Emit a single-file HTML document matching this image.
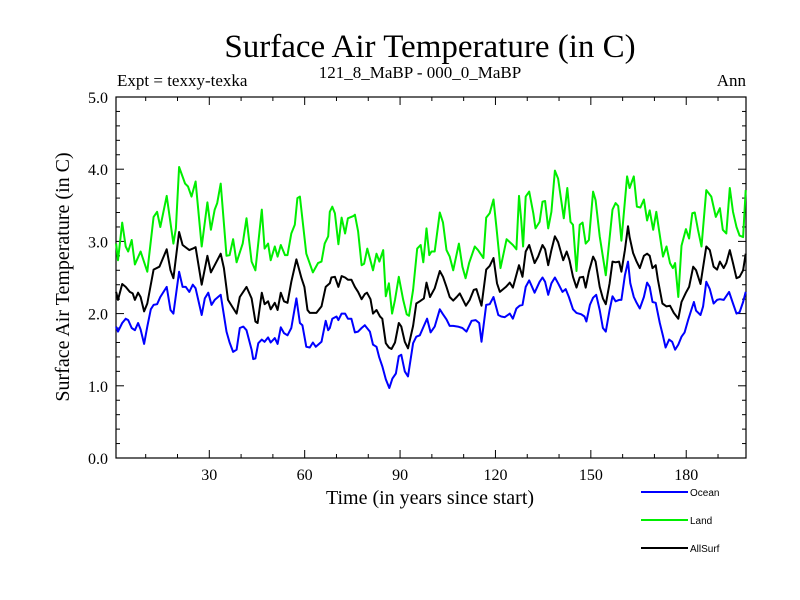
<!DOCTYPE html>
<html><head><meta charset="utf-8"><style>
body{margin:0;background:#fff;}
svg{display:block;font-family:"Liberation Serif",serif;}
</style></head><body>
<svg id="chart" width="800" height="600" viewBox="0 0 800 600">
<rect width="800" height="600" fill="#fff"/>
<text x="430" y="57" font-size="33" text-anchor="middle">Surface Air Temperature (in C)</text>
<text x="117" y="86" font-size="17">Expt = texxy-texka</text>
<text x="420" y="78" font-size="17" text-anchor="middle">121_8_MaBP - 000_0_MaBP</text>
<text x="746" y="86" font-size="17" text-anchor="end">Ann</text>
<text transform="translate(69,277) rotate(-90)" font-size="20" text-anchor="middle">Surface Air Temperature (in C)</text>
<text x="430" y="504" font-size="20" text-anchor="middle">Time (in years since start)</text>
<g id="axes"></g>
<g id="series"></g>
<g id="legend"></g>
</svg>
<script>
const xTicks=[30,60,90,120,150,180];
const xMinorTicks=[10,20,30,40,50,60,70,80,90,100,110,120,130,140,150,160,170,180,190];
const yTicks=[0,1,2,3,4,5];
const yTickLabels=["0.0","1.0","2.0","3.0","4.0","5.0"];
const seriesNames=["Ocean","Land","AllSurf"];

const oceanYears=[0.7,1.3,2.6,3.7,4.5,5.6,6.6,7.6,8.4,9.5,10.5,11.6,12.5,13.6,14.6,16.6,17.8,18.7,20.5,21.6,22.6,23.7,24.8,25.7,27.6,28.6,29.7,30.7,31.7,33.6,35.4,36.4,37.5,38.6,39.6,40.7,41.7,43.3,43.8,44.5,45.4,46.5,47.4,48.5,49.3,50.6,51.5,52.5,53.5,54.6,55.8,57.4,58.5,59.3,60.5,61.6,62.6,63.5,65.3,66.6,67.4,67.9,
68.7,70.0,70.6,71.6,72.7,73.6,74.7,75.8,76.8,77.9,78.9,80.5,81.5,82.6,83.4,84.4,85.5,86.6,87.6,88.7,89.6,90.4,91.5,92.5,94.1,95.1,96.2,97.5,98.5,99.6,100.9,102.5,103.5,104.6,105.6,106.7,108.2,109.6,110.9,112.5,113.8,114.9,115.6,117.1,118.2,119.4,120.9,121.8,122.9,124.5,125.5,126.6,127.6,128.5,129.5,130.6,132.3,133.9,
134.8,135.6,136.6,137.6,138.7,139.7,141.1,142.1,143.1,144.4,145.5,147.0,148.0,148.6,149.7,150.7,151.7,152.8,153.8,154.7,155.9,156.8,157.8,158.9,159.6,160.7,161.7,162.4,163.5,164.4,165.4,166.7,167.7,168.5,169.4,170.4,171.7,172.7,173.5,174.6,175.6,176.5,177.5,178.5,179.5,180.6,181.6,182.4,183.1,184.5,185.3,186.3,187.4,188.6,189.7,190.6,191.8,193.5,194.7,195.8,196.8,197.9,198.7];
const oceanValues=[1.82,1.75,1.87,1.93,1.91,1.80,1.77,1.87,1.78,1.58,1.82,2.06,2.12,2.13,2.23,2.37,2.05,2.00,2.58,2.37,2.37,2.30,2.40,2.35,1.98,2.21,2.29,2.12,2.19,2.26,1.75,1.60,1.47,1.50,1.80,1.82,1.77,1.50,1.37,1.38,1.59,1.64,1.61,1.67,1.60,1.66,1.58,1.81,1.73,1.70,1.80,2.21,1.87,1.84,1.54,1.53,1.60,1.54,1.61,1.90,1.77,1.80,
1.93,1.96,1.91,2.00,2.00,1.93,1.93,1.74,1.75,1.80,1.84,1.75,1.57,1.54,1.40,1.27,1.09,0.97,1.10,1.17,1.41,1.43,1.20,1.13,1.59,1.68,1.70,1.83,1.93,1.74,1.82,2.06,1.99,1.92,1.83,1.83,1.82,1.80,1.75,1.90,1.91,1.87,1.61,2.12,2.13,2.23,1.98,1.96,1.95,2.00,1.93,2.07,2.11,2.12,2.37,2.46,2.29,2.44,
2.50,2.44,2.26,2.42,2.50,2.42,2.30,2.34,2.23,2.06,2.01,1.99,1.96,1.89,2.12,2.22,2.26,2.05,1.80,1.75,2.05,2.24,2.17,2.19,2.19,2.53,2.72,2.42,2.23,2.15,2.07,2.23,2.43,2.37,2.16,2.15,1.87,1.69,1.53,1.64,1.61,1.50,1.57,1.68,1.74,1.91,2.05,2.16,2.04,1.98,2.10,2.44,2.34,2.14,2.19,2.20,2.19,2.30,2.14,2.00,2.02,2.16,2.30];

const landYears=[0.7,1.3,2.6,3.7,4.5,5.6,6.6,8.4,10.5,12.5,13.6,14.6,16.6,18.7,19.5,20.5,22.4,23.3,24.4,25.7,27.6,29.4,30.5,31.7,32.5,33.6,35.4,36.4,37.5,38.6,40.5,41.7,43.3,44.5,46.5,47.4,48.5,49.3,50.6,51.5,52.5,53.8,54.6,55.8,56.9,57.7,58.5,60.5,62.6,64.2,65.3,66.3,67.4,
67.9,68.7,69.5,70.6,71.6,72.7,73.6,75.3,75.8,76.8,77.9,78.7,79.7,81.5,82.6,83.5,84.7,85.5,86.5,87.5,88.4,89.6,91.0,92.1,92.8,94.1,95.4,96.5,97.3,98.3,99.2,99.9,100.9,102.5,103.5,104.6,105.6,106.7,108.5,109.6,110.6,111.7,113.5,114.5,116.2,117.1,118.2,119.4,120.3,121.6,123.5,125.5,126.6,127.4,128.1,128.7,129.5,130.6,131.9,132.6,133.9,
134.8,135.6,136.6,137.6,138.7,139.7,141.5,142.6,143.6,144.4,145.5,146.5,147.4,148.4,149.4,150.7,151.5,152.8,154.7,156.8,157.8,158.6,159.6,161.4,162.2,163.5,164.5,165.6,166.7,167.7,168.5,169.6,170.6,172.7,173.8,174.9,175.8,176.5,177.5,178.5,179.9,180.9,181.9,182.7,183.7,184.8,186.3,187.9,189.3,190.6,191.5,192.6,193.7,194.7,195.8,196.8,197.9,198.7];
const landValues=[2.97,2.74,3.26,2.93,2.86,3.02,2.68,2.86,2.58,3.34,3.41,3.20,3.63,2.97,3.18,4.03,3.80,3.76,3.62,3.83,2.93,3.54,3.16,3.44,3.53,3.80,2.80,2.81,3.03,2.71,2.97,3.32,2.72,2.60,3.44,2.90,2.97,2.74,2.93,2.79,2.95,2.81,2.81,3.11,3.23,3.60,3.62,2.83,2.57,2.70,2.72,2.97,3.07,
3.41,3.48,3.39,2.96,3.33,3.11,3.32,3.35,3.37,3.14,2.67,2.69,2.90,2.60,2.83,2.72,2.88,2.24,2.42,2.00,2.19,2.51,2.19,1.99,1.97,2.33,2.90,2.95,2.71,3.18,2.81,2.86,2.86,3.40,3.26,2.88,2.79,2.60,2.97,2.65,2.49,2.70,2.93,2.88,2.77,3.33,3.39,3.58,3.20,2.63,3.03,2.95,2.89,3.63,3.30,2.93,3.62,3.69,3.39,3.18,3.27,
3.55,3.56,3.18,3.41,3.98,3.87,3.32,3.74,3.27,3.23,2.59,3.23,3.26,2.97,3.02,3.69,3.57,3.07,2.53,3.44,3.53,3.49,3.01,3.90,3.74,3.90,3.48,3.47,3.58,3.29,3.43,3.16,3.41,2.79,2.93,2.70,2.63,2.70,2.23,2.94,3.17,3.04,3.39,3.40,3.16,2.93,3.71,3.62,3.34,3.46,3.16,3.11,3.74,3.41,3.20,3.08,3.06,3.71];

const allYears=[0.7,1.3,2.6,3.7,5.0,5.9,6.6,7.6,8.4,9.5,10.5,12.5,14.3,16.6,17.8,18.7,20.5,21.6,23.7,24.8,25.7,27.6,29.4,30.5,31.7,33.6,34.6,35.9,37.3,38.6,39.6,41.7,43.3,44.5,45.2,46.5,47.4,48.5,49.3,50.6,51.5,52.5,53.5,54.6,55.8,57.4,59.0,59.9,60.9,61.6,63.7,65.3,66.6,67.9,
68.4,69.5,70.6,71.6,72.7,73.6,74.7,75.8,76.8,77.9,78.9,79.6,80.7,81.5,82.6,83.7,84.4,85.5,86.5,87.3,88.4,89.6,90.4,91.5,92.5,94.1,95.1,96.2,97.5,98.3,99.4,100.9,102.5,103.5,104.6,105.6,106.7,107.8,108.8,110.7,111.9,113.2,114.0,115.6,117.1,118.2,119.4,120.5,121.4,123.3,124.5,125.5,127.4,128.5,129.5,130.6,132.3,133.4,
134.8,135.6,136.6,137.6,138.7,139.7,141.3,142.4,143.3,144.4,145.5,146.5,147.6,148.4,149.4,150.7,151.5,152.8,153.8,154.7,155.9,156.8,157.8,158.9,159.6,160.7,161.7,162.2,163.3,164.4,165.4,166.7,167.7,168.5,169.4,170.4,171.1,172.5,173.8,174.9,176.1,177.5,178.5,179.9,180.9,182.2,183.1,184.5,186.3,187.4,188.6,189.7,190.6,191.8,192.6,193.7,194.7,195.8,196.8,197.9,198.7];
const allValues=[2.30,2.19,2.41,2.37,2.30,2.28,2.19,2.29,2.23,2.03,2.14,2.61,2.65,2.89,2.60,2.49,3.13,2.95,2.88,2.90,2.92,2.40,2.80,2.57,2.67,2.83,2.63,2.19,2.09,2.00,2.23,2.37,2.21,1.89,1.87,2.29,2.13,2.17,2.06,2.15,2.05,2.29,2.17,2.15,2.44,2.75,2.49,2.37,2.05,2.01,2.01,2.10,2.37,2.42,
2.50,2.51,2.37,2.52,2.50,2.47,2.47,2.37,2.30,2.20,2.27,2.29,2.20,2.00,2.05,1.96,1.93,1.59,1.53,1.51,1.60,1.87,1.82,1.61,1.52,1.83,2.14,2.17,2.21,2.43,2.23,2.35,2.59,2.51,2.37,2.23,2.18,2.23,2.28,2.11,2.19,2.33,2.34,2.11,2.61,2.66,2.77,2.42,2.30,2.37,2.43,2.36,2.67,2.51,2.86,2.95,2.70,2.79,
2.95,2.89,2.67,2.88,3.07,2.99,2.74,2.86,2.74,2.51,2.36,2.50,2.51,2.36,2.58,2.79,2.72,2.37,2.21,2.13,2.42,2.72,2.71,2.72,2.58,2.88,3.21,3.06,2.84,2.72,2.63,2.80,2.83,2.80,2.63,2.67,2.47,2.14,2.10,2.11,2.01,1.93,2.16,2.29,2.37,2.65,2.60,2.41,2.93,2.88,2.65,2.61,2.72,2.63,2.70,2.88,2.70,2.49,2.51,2.60,2.83];

const PL=116,PR=746,PT=97,PB=458;
const X0=0.66,X1=198.8,Y0=0,Y1=5;
function xs(t){return PL+(t-X0)/(X1-X0)*(PR-PL);}
function ys(v){return PB-(v-Y0)/(Y1-Y0)*(PB-PT);}
const NS="http://www.w3.org/2000/svg";
function mk(tag,attrs,parent){const e=document.createElementNS(NS,tag);for(const k in attrs)e.setAttribute(k,attrs[k]);parent.appendChild(e);return e;}
const axes=document.getElementById('axes');
const frame=mk('rect',{x:PL,y:PT,width:PR-PL,height:PB-PT,fill:'none',stroke:'#000','stroke-width':1.2},axes);


for(let v=0.2;v<5;v+=0.2){
  const y=ys(v);
  const isMajor=Math.abs(v-Math.round(v))<1e-6;
  const L=isMajor?8:4;
  const a=mk('line',{x1:PL,x2:PL+L,y1:y,y2:y,stroke:'#000','stroke-width':1},axes);
  
  
  const b=mk('line',{x1:PR,x2:PR-L,y1:y,y2:y,stroke:'#000','stroke-width':1},axes);
  
  
}
yTicks.forEach((v,i)=>{
  const t=mk('text',{x:PL-8,y:ys(v)+6,'font-size':16,'text-anchor':'end'},axes);
  t.textContent=yTickLabels[i];
  
  
});
xMinorTicks.forEach(t=>{
  const x=xs(t);
  const isMajor=xTicks.indexOf(t)>=0;
  const L=isMajor?8:4;
  const a=mk('line',{x1:x,x2:x,y1:PB,y2:PB-L,stroke:'#000','stroke-width':1},axes);
  
  
  const b=mk('line',{x1:x,x2:x,y1:PT,y2:PT+L,stroke:'#000','stroke-width':1},axes);
  
  
});
xTicks.forEach(t=>{
  const e=mk('text',{x:xs(t),y:PB+22,'font-size':16,'text-anchor':'middle'},axes);
  e.textContent=String(t);
  
  
});
const ser=document.getElementById('series');
function line(xsA,vs,color,name){
  const d=xsA.map((t,i)=>(i?'L':'M')+xs(t).toFixed(1)+','+ys(vs[i]).toFixed(1)).join(' ');
  const p=mk('path',{d:d,fill:'none',stroke:color,'stroke-width':2,'stroke-linejoin':'round'},ser);
  
  
}
line(landYears,landValues,'#00ee00','land-line');
line(allYears,allValues,'#000000','allsurf-line');
line(oceanYears,oceanValues,'#0000ff','ocean-line');
const leg=document.getElementById('legend');
const legColors=['#0000ff','#00ee00','#000000'];
seriesNames.forEach((n,i)=>{
  const y=492+i*28;
  const l=mk('line',{x1:641,x2:688,y1:y,y2:y,stroke:legColors[i],'stroke-width':2},leg);
  
  
  const t=mk('text',{x:690,y:y+4,'font-size':10,'font-family':'Liberation Sans, sans-serif'},leg);
  t.textContent=n;
  
  
});
</script>
</body></html>
